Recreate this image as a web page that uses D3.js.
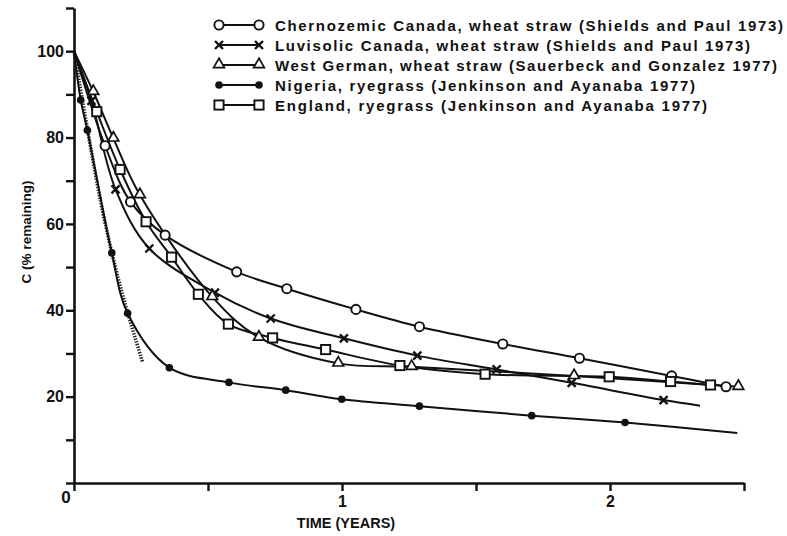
<!DOCTYPE html>
<html>
<head>
<meta charset="utf-8">
<script src="https://cdn.jsdelivr.net/npm/d3@7"></script>
<style>
  body { margin: 0; background: #fff; }
  text { font-family: "Liberation Sans", Arial, sans-serif; font-weight: bold; fill: #111; }
</style>
</head>
<body>
<script>
// data: [time (years), C % remaining]
var start = [0, 100];
var chernozemic = [[0.116, 78.1], [0.211, 65.1], [0.34, 57.4], [0.607, 48.9], [0.794, 45.0],
  [1.052, 40.2], [1.289, 36.2], [1.6, 32.2], [1.886, 28.9], [2.23, 24.8], [2.433, 22.3]];
var luvisolic = [[0.065, 88.5], [0.155, 68.0], [0.281, 54.3], [0.526, 44.1], [0.734, 38.1],
  [1.007, 33.5], [1.281, 29.5], [1.577, 26.3], [1.857, 23.2], [2.2, 19.2]];
var luvisolicEnd = [2.336, 17.9];
var westGerman = [[0.072, 90.6], [0.147, 79.8], [0.246, 66.7], [0.516, 43.1], [0.69, 33.7],
  [0.986, 27.7], [1.26, 26.9], [1.866, 24.8], [2.479, 22.3]];
var nigeria = [[0.025, 88.7], [0.05, 81.7], [0.141, 53.3], [0.2, 39.3], [0.356, 26.7],
  [0.578, 23.3], [0.79, 21.5], [0.999, 19.4], [1.289, 17.8], [1.708, 15.6], [2.056, 14.0]];
var nigeriaEnd = [2.475, 11.6];
var nigeriaFit = [[0, 100], [0.05, 82], [0.1, 65], [0.15, 51], [0.2, 39.5], [0.256, 28]];
var england = [[0.085, 86.0], [0.172, 72.6], [0.269, 60.5], [0.364, 52.3], [0.464, 43.7],
  [0.576, 36.8], [0.741, 33.6], [0.939, 30.9], [1.216, 27.2], [1.534, 25.2], [1.997, 24.6],
  [2.226, 23.5], [2.375, 22.7]];

var legendLabels = [
  "Chernozemic Canada, wheat straw (Shields and Paul 1973)",
  "Luvisolic Canada, wheat straw (Shields and Paul 1973)",
  "West German, wheat straw (Sauerbeck and Gonzalez 1977)",
  "Nigeria, ryegrass (Jenkinson and Ayanaba 1977)",
  "England, ryegrass (Jenkinson and Ayanaba 1977)"
];
var legendWidths = [508, 475, 502, 420, 432];
var yTicks = d3.range(0, 111, 10);
var yLabels = [20, 40, 60, 80, 100];
var xTicks = [0, 0.5, 1, 1.5, 2, 2.5];
var xLabels = [1, 2];

var W = 787, H = 536;
var svg = d3.select("body").append("svg")
    .attr("width", W)
    .attr("height", H);

var x = d3.scaleLinear().domain([0, 2.5]).range([74, 744]);
var y = d3.scaleLinear().domain([0, 110]).range([483, 8]);

//axes
var yAxis = svg.append("g")
    .attr("transform", "translate(74,0)")
    .call(d3.axisLeft(y).tickValues(yTicks).tickSize(8).tickSizeOuter(0)
      .tickFormat(function(d) { return yLabels.indexOf(d) >= 0 ? d : ""; }));
var xAxis = svg.append("g")
    .attr("transform", "translate(0,483)")
    .call(d3.axisBottom(x).tickValues(xTicks).tickSize(8).tickSizeOuter(0)
      .tickFormat(function(d) { return xLabels.indexOf(d) >= 0 ? d : ""; }));

[yAxis, xAxis].forEach(function(a) {
  a.select(".domain").attr("stroke", "#111").attr("stroke-width", 2.6);
  a.selectAll(".tick line").attr("stroke", "#111").attr("stroke-width", 2.4);
  a.selectAll(".tick text").attr("font-size", 16).attr("fill", "#111")
    .attr("font-family", "Liberation Sans, Arial, sans-serif").attr("font-weight", "bold");
});
yAxis.selectAll(".tick text").attr("x", -10);
xAxis.selectAll(".tick text").attr("y", 13);

svg.append("text")
    .attr("x", 66).attr("y", 503)
    .attr("text-anchor", "middle")
    .attr("font-size", 17)
    .text("0");

svg.append("text")
    .attr("x", 346).attr("y", 528)
    .attr("text-anchor", "middle")
    .attr("font-size", 14.5)
    .text("TIME (YEARS)");

svg.append("text")
    .attr("transform", "translate(31,232) rotate(-90)")
    .attr("text-anchor", "middle")
    .attr("font-size", 13.5)
    .text("C (% remaining)");

//lines
var line = d3.line()
    .x(function(d) { return x(d[0]); })
    .y(function(d) { return y(d[1]); })
    .curve(d3.curveCatmullRom.alpha(0.5));

var series = [
  {pts: chernozemic, end: null, mark: "circle"},
  {pts: luvisolic, end: luvisolicEnd, mark: "cross"},
  {pts: westGerman, end: null, mark: "triangle"},
  {pts: nigeria, end: nigeriaEnd, mark: "dot"},
  {pts: england, end: null, mark: "square"}
];

var plot = svg.append("g");

plot.append("path")
    .datum(nigeriaFit)
    .attr("d", line)
    .attr("fill", "none")
    .attr("stroke", "#222")
    .attr("stroke-width", 3.6)
    .attr("stroke-dasharray", "1.4,1.4");

series.forEach(function(s) {
  var all = [start].concat(s.pts);
  if (s.end) all.push(s.end);
  plot.append("path")
      .datum(all)
      .attr("d", line)
      .attr("fill", "none")
      .attr("stroke", "#111")
      .attr("stroke-width", 2);
});

function marker(g, type, cx, cy) {
  if (type == "circle") {
    g.append("circle").attr("cx", cx).attr("cy", cy).attr("r", 4.6)
      .attr("fill", "#fff").attr("stroke", "#111").attr("stroke-width", 1.9);
  } else if (type == "dot") {
    g.append("circle").attr("cx", cx).attr("cy", cy).attr("r", 3.8).attr("fill", "#111");
  } else if (type == "square") {
    g.append("rect").attr("x", cx - 4.6).attr("y", cy - 4.6).attr("width", 9.2).attr("height", 9.2)
      .attr("fill", "#fff").attr("stroke", "#111").attr("stroke-width", 1.9);
  } else if (type == "triangle") {
    g.append("path").attr("transform", "translate(" + cx + "," + (cy - 0.5) + ")")
      .attr("d", d3.symbol().type(d3.symbolTriangle).size(50)())
      .attr("fill", "#fff").attr("stroke", "#111").attr("stroke-width", 1.7);
  } else if (type == "cross") {
    g.append("path")
      .attr("d", "M" + (cx - 4) + "," + (cy - 4) + "L" + (cx + 4) + "," + (cy + 4) +
                 "M" + (cx - 4) + "," + (cy + 4) + "L" + (cx + 4) + "," + (cy - 4))
      .attr("stroke", "#111").attr("stroke-width", 2.4);
  }
}

series.forEach(function(s) {
  s.pts.forEach(function(p) { marker(plot, s.mark, x(p[0]), y(p[1])); });
});

//legend
var leg = svg.append("g");
series.forEach(function(s, i) {
  var ly = 25 + i * 20;
  leg.append("line")
      .attr("x1", 219).attr("x2", 259).attr("y1", ly).attr("y2", ly)
      .attr("stroke", "#111").attr("stroke-width", 2);
  marker(leg, s.mark, 219, ly);
  marker(leg, s.mark, 259, ly);
  leg.append("text")
      .attr("x", 275).attr("y", ly + 5.5)
      .attr("font-size", 15)
      .attr("textLength", legendWidths[i])
      .attr("lengthAdjust", "spacing")
      .text(legendLabels[i]);
});
</script>
</body>
</html>
